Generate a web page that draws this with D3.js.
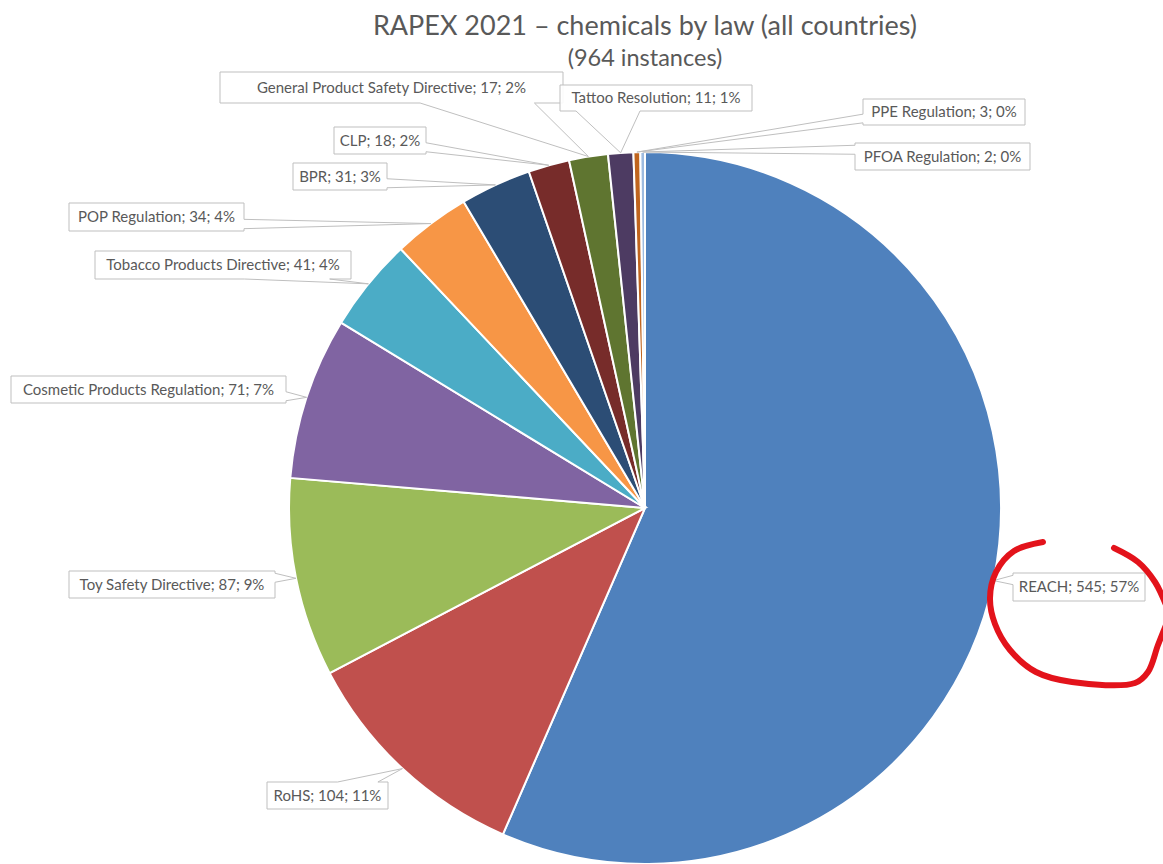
<!DOCTYPE html>
<meta charset="utf-8">
<style>
    body { margin: 0; background: white; }
    .title { font-family: Lato, "Open Sans", sans-serif; fill: #595959; }
    .lbl text { font-family: Lato, "Open Sans", sans-serif; font-size: 15px; fill: #595959; }
</style>
<script src="https://d3js.org/d3.v7.min.js"></script>
<body>
<script>

    // data, in the order Excel draws it (clockwise from 12 o'clock)
    var laws = ["REACH", "RoHS", "Toy Safety Directive", "Cosmetic Products Regulation",
        "Tobacco Products Directive", "POP Regulation", "BPR", "CLP",
        "General Product Safety Directive", "Tattoo Resolution", "PPE Regulation", "PFOA Regulation"]
    var instances = [545, 104, 87, 71, 41, 34, 31, 18, 17, 11, 3, 2]
    var sliceColors = ["#4F81BD", "#C0504D", "#9BBB59", "#8064A2", "#4BACC6", "#F79646",
        "#2C4D75", "#772C2A", "#5F7530", "#4D3B62", "#C0651E", "#9DBBE0"]

    // label boxes [left, top, width, height] - layout only
    var labelBox = [
        [1013, 573, 132, 28], [267, 782, 121, 27], [69, 571, 206, 27], [11, 376, 275, 27],
        [95, 251, 256, 28], [69, 203, 175, 28], [293, 163, 94, 27], [334, 127, 92, 27],
        [220, 72, 343, 31], [560, 85, 192, 26], [863, 99, 162, 26], [855, 143, 175, 27]
    ]

    var width = 1163, height = 864
    var cx = 645, cy = 508, radius = 356

    var svg = d3.select("body").append("svg")
        .attr("width", width)
        .attr("height", height)

    var total = d3.sum(instances)
    var pct = d3.format(".0%")

    svg.append("text")
        .attr("class", "title")
        .attr("x", cx).attr("y", 35)
        .attr("text-anchor", "middle")
        .attr("font-size", "27px")
        .text("RAPEX 2021 – chemicals by law (all countries)")

    svg.append("text")
        .attr("class", "title")
        .attr("x", cx).attr("y", 66)
        .attr("text-anchor", "middle")
        .attr("font-size", "23.5px")
        .text("(" + total + " instances)")

    var pie = d3.pie().sort(null).value(function (d) { return d })
    var arcs = pie(instances)

    var arc = d3.arc().innerRadius(0).outerRadius(radius)

    var g = svg.append("g").attr("transform", "translate(" + cx + "," + cy + ")")

    g.selectAll("path")
        .data(arcs)
        .enter()
        .append("path")
        .attr("d", arc)
        .attr("fill", function (d, i) { return sliceColors[i] })
        .attr("stroke", "white")
        .style("stroke-width", "2px")

    // callout shape: box with a wedge pointing at (ax, ay)
    function callout(x, y, w, h, ax, ay) {
        var mx = x + w / 2, my = y + h / 2
        var dx = ax - mx, dy = ay - my
        var side
        if (Math.abs(dx) / w > Math.abs(dy) / h) side = dx > 0 ? "right" : "left"
        else side = dy > 0 ? "bottom" : "top"
        var xb = dx > 0 ? [x + 7 * w / 12, x + 11 * w / 12] : [x + w / 12, x + 5 * w / 12]
        var yb = dy > 0 ? [y + 7 * h / 12, y + 11 * h / 12] : [y + h / 12, y + 5 * h / 12]
        var p = d3.path()
        p.moveTo(x, y)
        if (side == "top") { p.lineTo(xb[0], y); p.lineTo(ax, ay); p.lineTo(xb[1], y) }
        p.lineTo(x + w, y)
        if (side == "right") { p.lineTo(x + w, yb[0]); p.lineTo(ax, ay); p.lineTo(x + w, yb[1]) }
        p.lineTo(x + w, y + h)
        if (side == "bottom") { p.lineTo(xb[1], y + h); p.lineTo(ax, ay); p.lineTo(xb[0], y + h) }
        p.lineTo(x, y + h)
        if (side == "left") { p.lineTo(x, yb[1]); p.lineTo(ax, ay); p.lineTo(x, yb[0]) }
        p.closePath()
        return p.toString()
    }

    var labels = svg.selectAll(".lbl")
        .data(arcs)
        .enter()
        .append("g")
        .attr("class", "lbl")

    labels.append("path")
        .attr("d", function (d, i) {
            var a = (d.startAngle + d.endAngle) / 2
            var ax = cx + radius * Math.sin(a)
            var ay = cy - radius * Math.cos(a)
            var b = labelBox[i]
            return callout(b[0], b[1], b[2], b[3], ax, ay)
        })
        .attr("fill", "white")
        .attr("fill-opacity", 0.9)
        .attr("stroke", "#BFBFBF")
        .attr("stroke-width", 1)

    labels.append("text")
        .attr("x", function (d, i) { return labelBox[i][0] + labelBox[i][2] / 2 })
        .attr("y", function (d, i) { return labelBox[i][1] + labelBox[i][3] / 2 + 5 })
        .attr("text-anchor", "middle")
        .text(function (d, i) { return laws[i] + "; " + d.value + "; " + pct(d.value / total) })

    // hand-drawn red ring around the REACH label
    var ring = d3.line().curve(d3.curveCatmullRom)
    svg.append("path")
        .attr("d", ring([[1043, 542], [1014, 551], [996, 572], [990, 598], [995, 624],
            [1010, 650], [1036, 672], [1072, 682], [1135, 683], [1148, 672], [1158, 645], [1166, 625]]))
        .attr("fill", "none")
        .attr("stroke", "#E3131B")
        .attr("stroke-width", 6)
        .attr("stroke-linecap", "round")
    svg.append("path")
        .attr("d", ring([[1114, 548], [1138, 562], [1155, 582], [1166, 605]]))
        .attr("fill", "none")
        .attr("stroke", "#E3131B")
        .attr("stroke-width", 6)
        .attr("stroke-linecap", "round")

</script>
